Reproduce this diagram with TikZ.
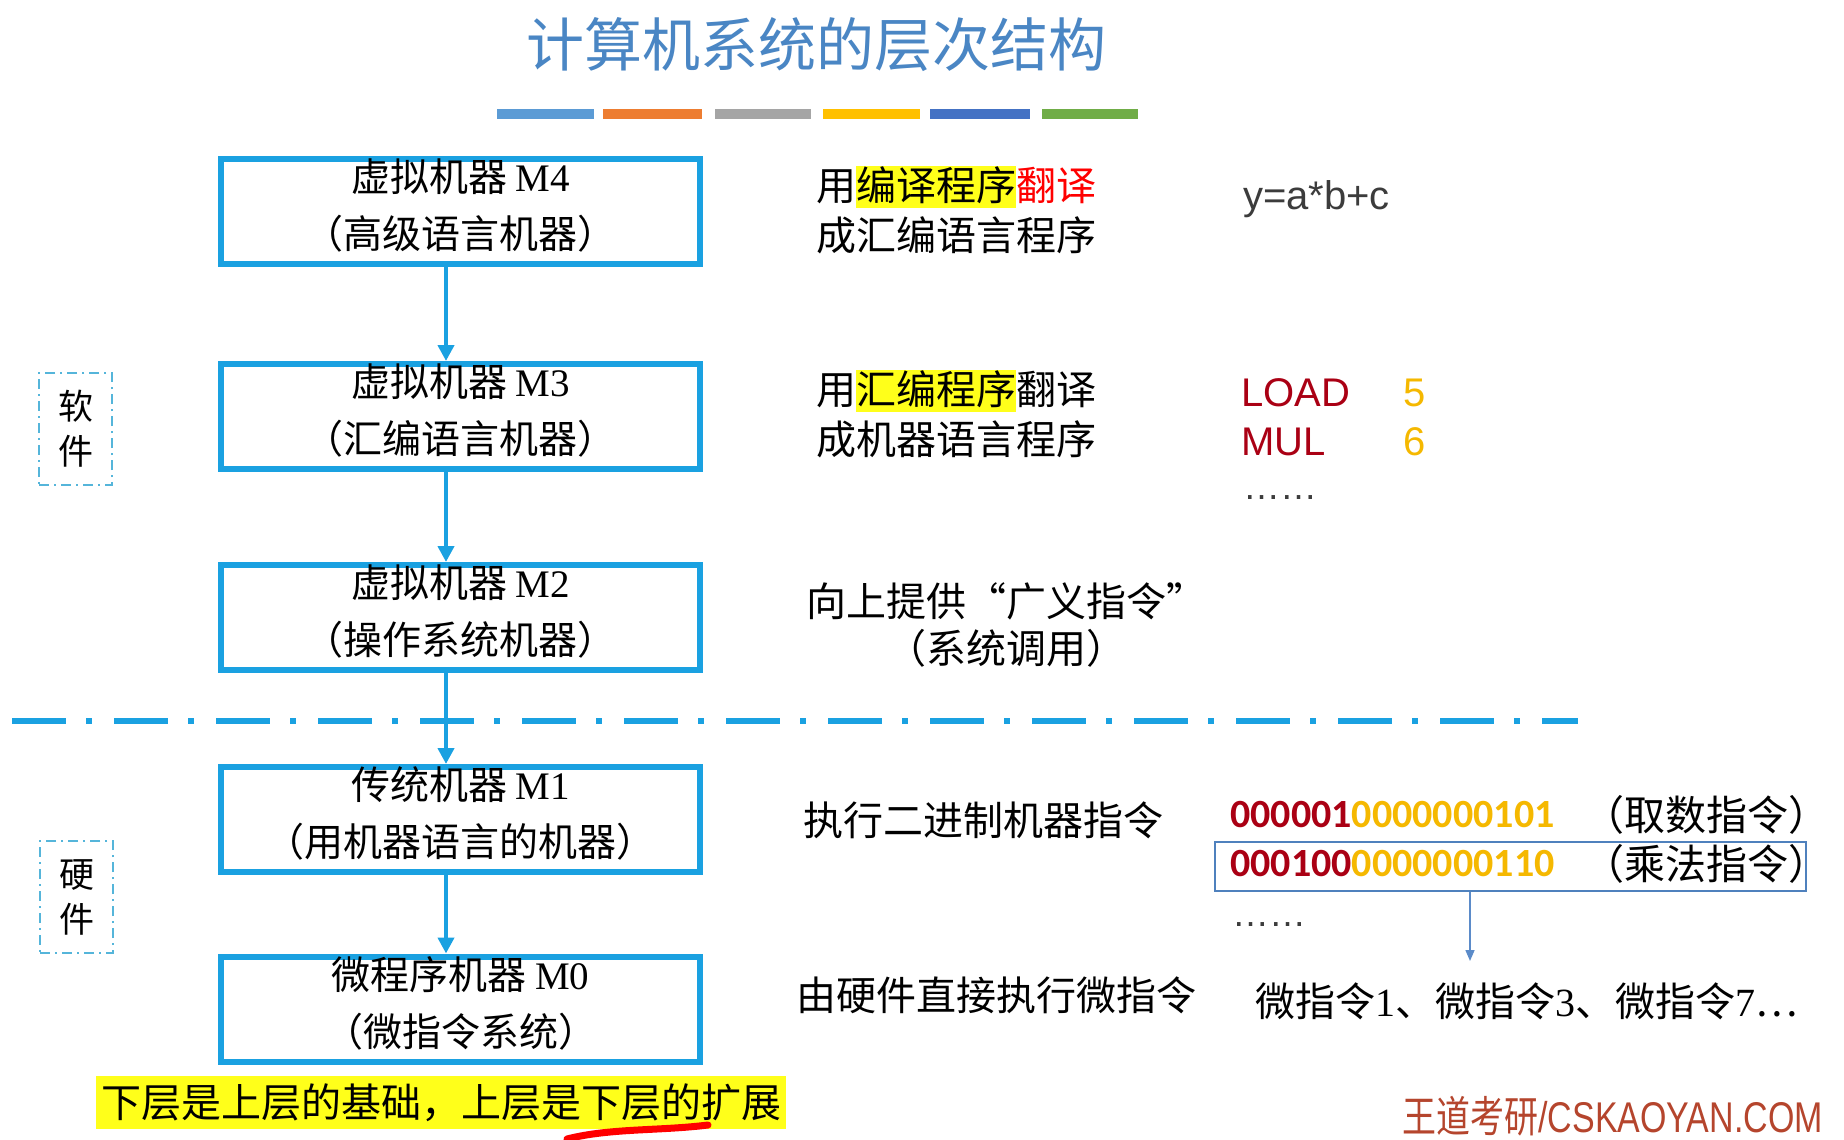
\documentclass[tikz,border=0pt]{standalone}
\usepackage{fontspec}
\setmainfont{Noto Sans CJK SC}
\newfontfamily\arialf{Liberation Sans}
\newfontfamily\calf{Carlito}
\newfontfamily\timesf{Liberation Serif}
\usetikzlibrary{arrows.meta}
\definecolor{titleblue}{HTML}{4A86C4}
\definecolor{boxblue}{HTML}{1AA1E1}
\definecolor{sideblue}{HTML}{55B5DA}
\definecolor{frameblue}{HTML}{4F81BD}
\definecolor{thinarrow}{HTML}{5B8BC9}
\definecolor{darkred}{HTML}{AA0014}
\definecolor{goldc}{HTML}{F5B800}
\definecolor{textgray}{HTML}{3C3C3C}
\definecolor{wmred}{HTML}{B5452D}
\definecolor{hlyellow}{HTML}{FFFF1A}
\definecolor{barA}{HTML}{5B9BD5}
\definecolor{barB}{HTML}{ED7D31}
\definecolor{barC}{HTML}{A5A5A5}
\definecolor{barD}{HTML}{FFC000}
\definecolor{barE}{HTML}{4472C4}
\definecolor{barF}{HTML}{70AD47}
\newcommand\hlt[1]{{\setlength{\fboxsep}{0pt}\colorbox{hlyellow}{\rule[-0.2em]{0pt}{1em}#1}}}
\newcommand\lift{\rule[-15pt]{0pt}{1pt}}
\begin{document}
\begin{tikzpicture}[x=1pt,y=-1pt,
  mbox/.style={draw=boxblue, line width=6pt, minimum width=479pt, minimum height=105pt, inner sep=0pt, align=center, font=\fontsize{39}{57}\selectfont},
  flow/.style={draw=boxblue, line width=4pt, -{Triangle[width=16pt,length=16pt]}},
  thinflow/.style={draw=thinarrow, line width=1.5pt, -{Triangle[width=9pt,length=11pt]}},
  sidebox/.style={draw=sideblue, line width=2pt, dash pattern=on 10pt off 5pt on 2pt off 5pt, minimum width=73pt, minimum height=112pt, inner sep=0pt, align=center, font=\fontsize{35}{45}\selectfont},
  mid/.style={anchor=west, inner sep=0pt, align=left, font=\fontsize{40}{50}\selectfont},
  rtxt/.style={anchor=west, inner sep=0pt, font=\fontsize{40}{48}\selectfont\arialf},
  bin/.style={anchor=west, inner sep=0pt, font=\fontsize{40}{48}\selectfont\calf\bfseries},
  lab/.style={anchor=west, inner sep=0pt, font=\fontsize{41}{48}\selectfont}
]
\useasboundingbox (0,0) rectangle (1844,1140);
\fill[white] (0,0) rectangle (1844,1140);

% title
\node[font=\fontsize{58}{64}\selectfont, text=titleblue, inner sep=0pt] (title) at (816,45) {计算机系统的层次结构};
\fill[barA] (497,109) rectangle (594,119);
\fill[barB] (603,109) rectangle (702,119);
\fill[barC] (715,109) rectangle (811,119);
\fill[barD] (823,109) rectangle (920,119);
\fill[barE] (930,109) rectangle (1030,119);
\fill[barF] (1042,109) rectangle (1138,119);

% dash-dot separator
\coordinate (dl) at (12,721);
\coordinate (dr) at (1578,721);
\draw[boxblue, line width=6pt, dash pattern=on 54pt off 20pt on 6pt off 22pt] (dl) -- (dr);

% machine boxes
\node[mbox] (m4) at (460.5,211.5) {虚拟机器 {\timesf M4}\\（高级语言机器）\lift};
\node[mbox] (m3) at (460.5,416.5) {虚拟机器 {\timesf M3}\\（汇编语言机器）\lift};
\node[mbox] (m2) at (460.5,617.5) {虚拟机器 {\timesf M2}\\（操作系统机器）\lift};
\node[mbox] (m1) at (460.5,819.5) {传统机器 {\timesf M1}\\（用机器语言的机器）\lift};
\node[mbox] (m0) at (460.5,1009) {微程序机器 {\timesf M0}\\（微指令系统）\lift};

\coordinate (ax) at (446,0);
\draw[flow] (m4.south -| ax) -- (m3.north -| ax);
\draw[flow] (m3.south -| ax) -- (m2.north -| ax);
\draw[flow] (m2.south -| ax) -- (m1.north -| ax);
\draw[flow] (m1.south -| ax) -- (m0.north -| ax);

% side labels
\node[sidebox] (sw) at (75.5,429) {软\\件};
\node[sidebox] (hw) at (76.5,897) {硬\\件};

% middle descriptions
\node[mid] (t4) at (816,210) {用\hlt{编译程序}{\color{red}翻译}\\成汇编语言程序};
\node[mid] (t3) at (816,414) {用\hlt{汇编程序}翻译\\成机器语言程序};
\node[anchor=center, inner sep=0pt, align=center, font=\fontsize{40}{47}\selectfont] (t2) at (1006,624.5) {向上提供“广义指令”\\（系统调用）};
\node[mid] (t1) at (803,820) {执行二进制机器指令};
\node[mid] (t0) at (796,995) {由硬件直接执行微指令};

% right column
\node[rtxt, text=textgray] (r4) at (1243,199) {y=a*b+c};
\node[rtxt, text=darkred] (r3a) at (1241,393) {LOAD};
\node[rtxt, text=goldc] (r3b) at (1403,393) {5};
\node[rtxt, text=darkred] (r3c) at (1241,442) {MUL};
\node[rtxt, text=goldc] (r3d) at (1403,442) {6};
\node[rtxt, text=textgray, font=\fontsize{37}{44}\selectfont\arialf] (r3e) at (1243,498) {……};

\node[bin] (b1) at (1230,815) {\color{darkred}000001\color{goldc}0000000101};
\node[lab] (b1l) at (1583,815) {（取数指令）};
\node[draw=frameblue, line width=1.5pt, minimum width=591pt, minimum height=49pt, inner sep=0pt] (b2frame) at (1510.5,866.5) {};
\node[bin] (b2) at (1230,864) {\color{darkred}000100\color{goldc}0000000110};
\node[lab] (b2l) at (1583,864) {（乘法指令）};
\node[rtxt, text=textgray, font=\fontsize{37}{44}\selectfont\arialf] (bdots) at (1232,925) {……};
\coordinate (mtip) at (1470,961);
\draw[thinflow] (b2frame.south -| mtip) -- (mtip);
\node[mid] (mi) at (1255,1001) {微指令{\timesf 1}、微指令{\timesf 3}、微指令{\timesf 7}…};

% bottom note
\node[anchor=west, fill=hlyellow, inner xsep=5pt, inner ysep=6.5pt, font=\fontsize{40}{48}\selectfont] (note) at (96,1102.5) {\rule[-0.12em]{0pt}{1em}下层是上层的基础，上层是下层的扩展};
\draw[red, line width=7pt, line cap=round] (567,1139) .. controls (610,1128) and (660,1131) .. (708,1125);

% logo
\node[anchor=east, inner sep=0pt, text=wmred, font=\fontsize{43}{48}\selectfont] (logo) at (1823,1116) {\scalebox{0.79}[1]{王道考研{\arialf /CSKAOYAN.COM}}};
\end{tikzpicture}
\end{document}
